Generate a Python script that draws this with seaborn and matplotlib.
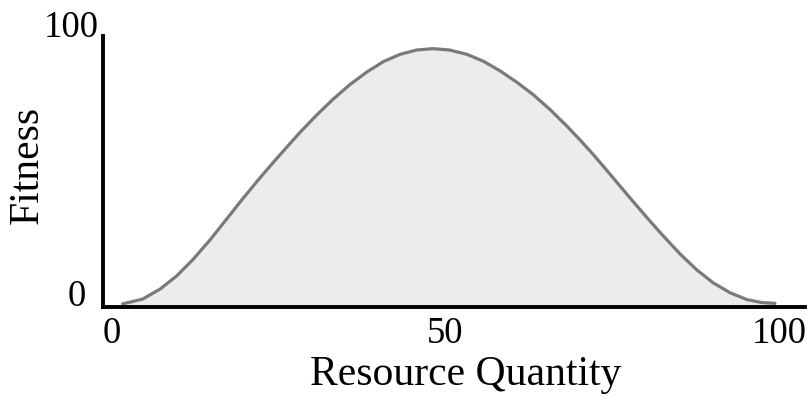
"""
fitness curve: fitness against resource quantity
"""
import matplotlib
matplotlib.use("Agg")
import matplotlib.pyplot as plt
import matplotlib.transforms as mtransforms
import seaborn as sns
import pandas as pd

# points
resource = [1.6, 4.6, 7.2, 9.7, 12.1, 14.7, 17.2, 19.6, 22.2, 24.7, 26.5, 28.2,
            30.6, 33.1, 35.6, 38.2, 40.7, 43.2, 45.7, 48.1, 50.6, 53.2, 55.7,
            58.2, 60.7, 63.1, 65.7, 68.2, 70.2, 72.2, 74.1, 75.9, 77.7, 80.2,
            82.6, 85.2, 87.7, 90.1, 92.7, 95.2, 97.4, 99.4]
fitness = [0.4, 2.2, 5.9, 10.8, 16.8, 24.2, 32.0, 39.5, 47.3, 54.5, 59.5, 64.2,
           70.4, 76.4, 81.8, 86.6, 90.5, 93.2, 94.8, 95.3, 94.8, 93.2, 90.6,
           87.0, 82.8, 78.3, 72.6, 66.5, 61.3, 55.8, 50.3, 45.0, 39.7, 32.5,
           25.8, 18.9, 13.0, 8.3, 4.5, 2.0, 0.9, 0.6]

x_ticks = [0, 50, 100]
y_ticks = [0, 100]

df = pd.DataFrame({"Resource Quantity": resource, "Fitness": fitness})

sns.set_style("white")
plt.rcParams["font.family"] = ["Liberation Serif", "DejaVu Serif"]
plt.rcParams["text.color"] = "black"
plt.rcParams["axes.labelcolor"] = "black"

fig = plt.figure(figsize=(8.12, 4.10), dpi=100)
ax = fig.add_axes([103 / 812, 102 / 410, 702 / 812, 271 / 410])

# shaded area under the curve, then the curve itself
ax.fill_between(df["Resource Quantity"], 0, df["Fitness"], color="#ebecee", lw=0)
sns.lineplot(data=df, x="Resource Quantity", y="Fitness", ax=ax,
             color="#7a7a7a", linewidth=2.3, sort=False)
ax.lines[0].set_solid_joinstyle("round")

ax.set_xlim(-1.35, 103.9)
ax.set_ylim(-0.75, 100)

sns.despine(ax=ax)
for side in ["left", "bottom"]:
    ax.spines[side].set_color("black")
    ax.spines[side].set_linewidth(2.8)

ax.set_xticks(x_ticks)
ax.set_yticks(y_ticks)
ax.set_xticklabels([str(t) for t in x_ticks])
ax.set_yticklabels([str(t) for t in y_ticks], va="baseline")
ax.tick_params(axis="both", length=0, labelsize=26.5, colors="black")
ax.tick_params(axis="x", pad=6)
ax.tick_params(axis="y", pad=3)

# the "0" on the y axis sits a bit further left than "100"
lbl0 = ax.get_yticklabels()[0]
lbl0.set_transform(lbl0.get_transform() +
                   mtransforms.ScaledTranslation(-13 / 100, 0, fig.dpi_scale_trans))

ax.set_xlabel("Resource Quantity", fontsize=30, va="center", color="black")
ax.set_ylabel("Fitness", fontsize=30, va="center", color="black")
ax.xaxis.set_label_coords(0.516, -0.247)
ax.yaxis.set_label_coords(-0.108, 0.528)

fig.savefig("out.png", dpi=100)
